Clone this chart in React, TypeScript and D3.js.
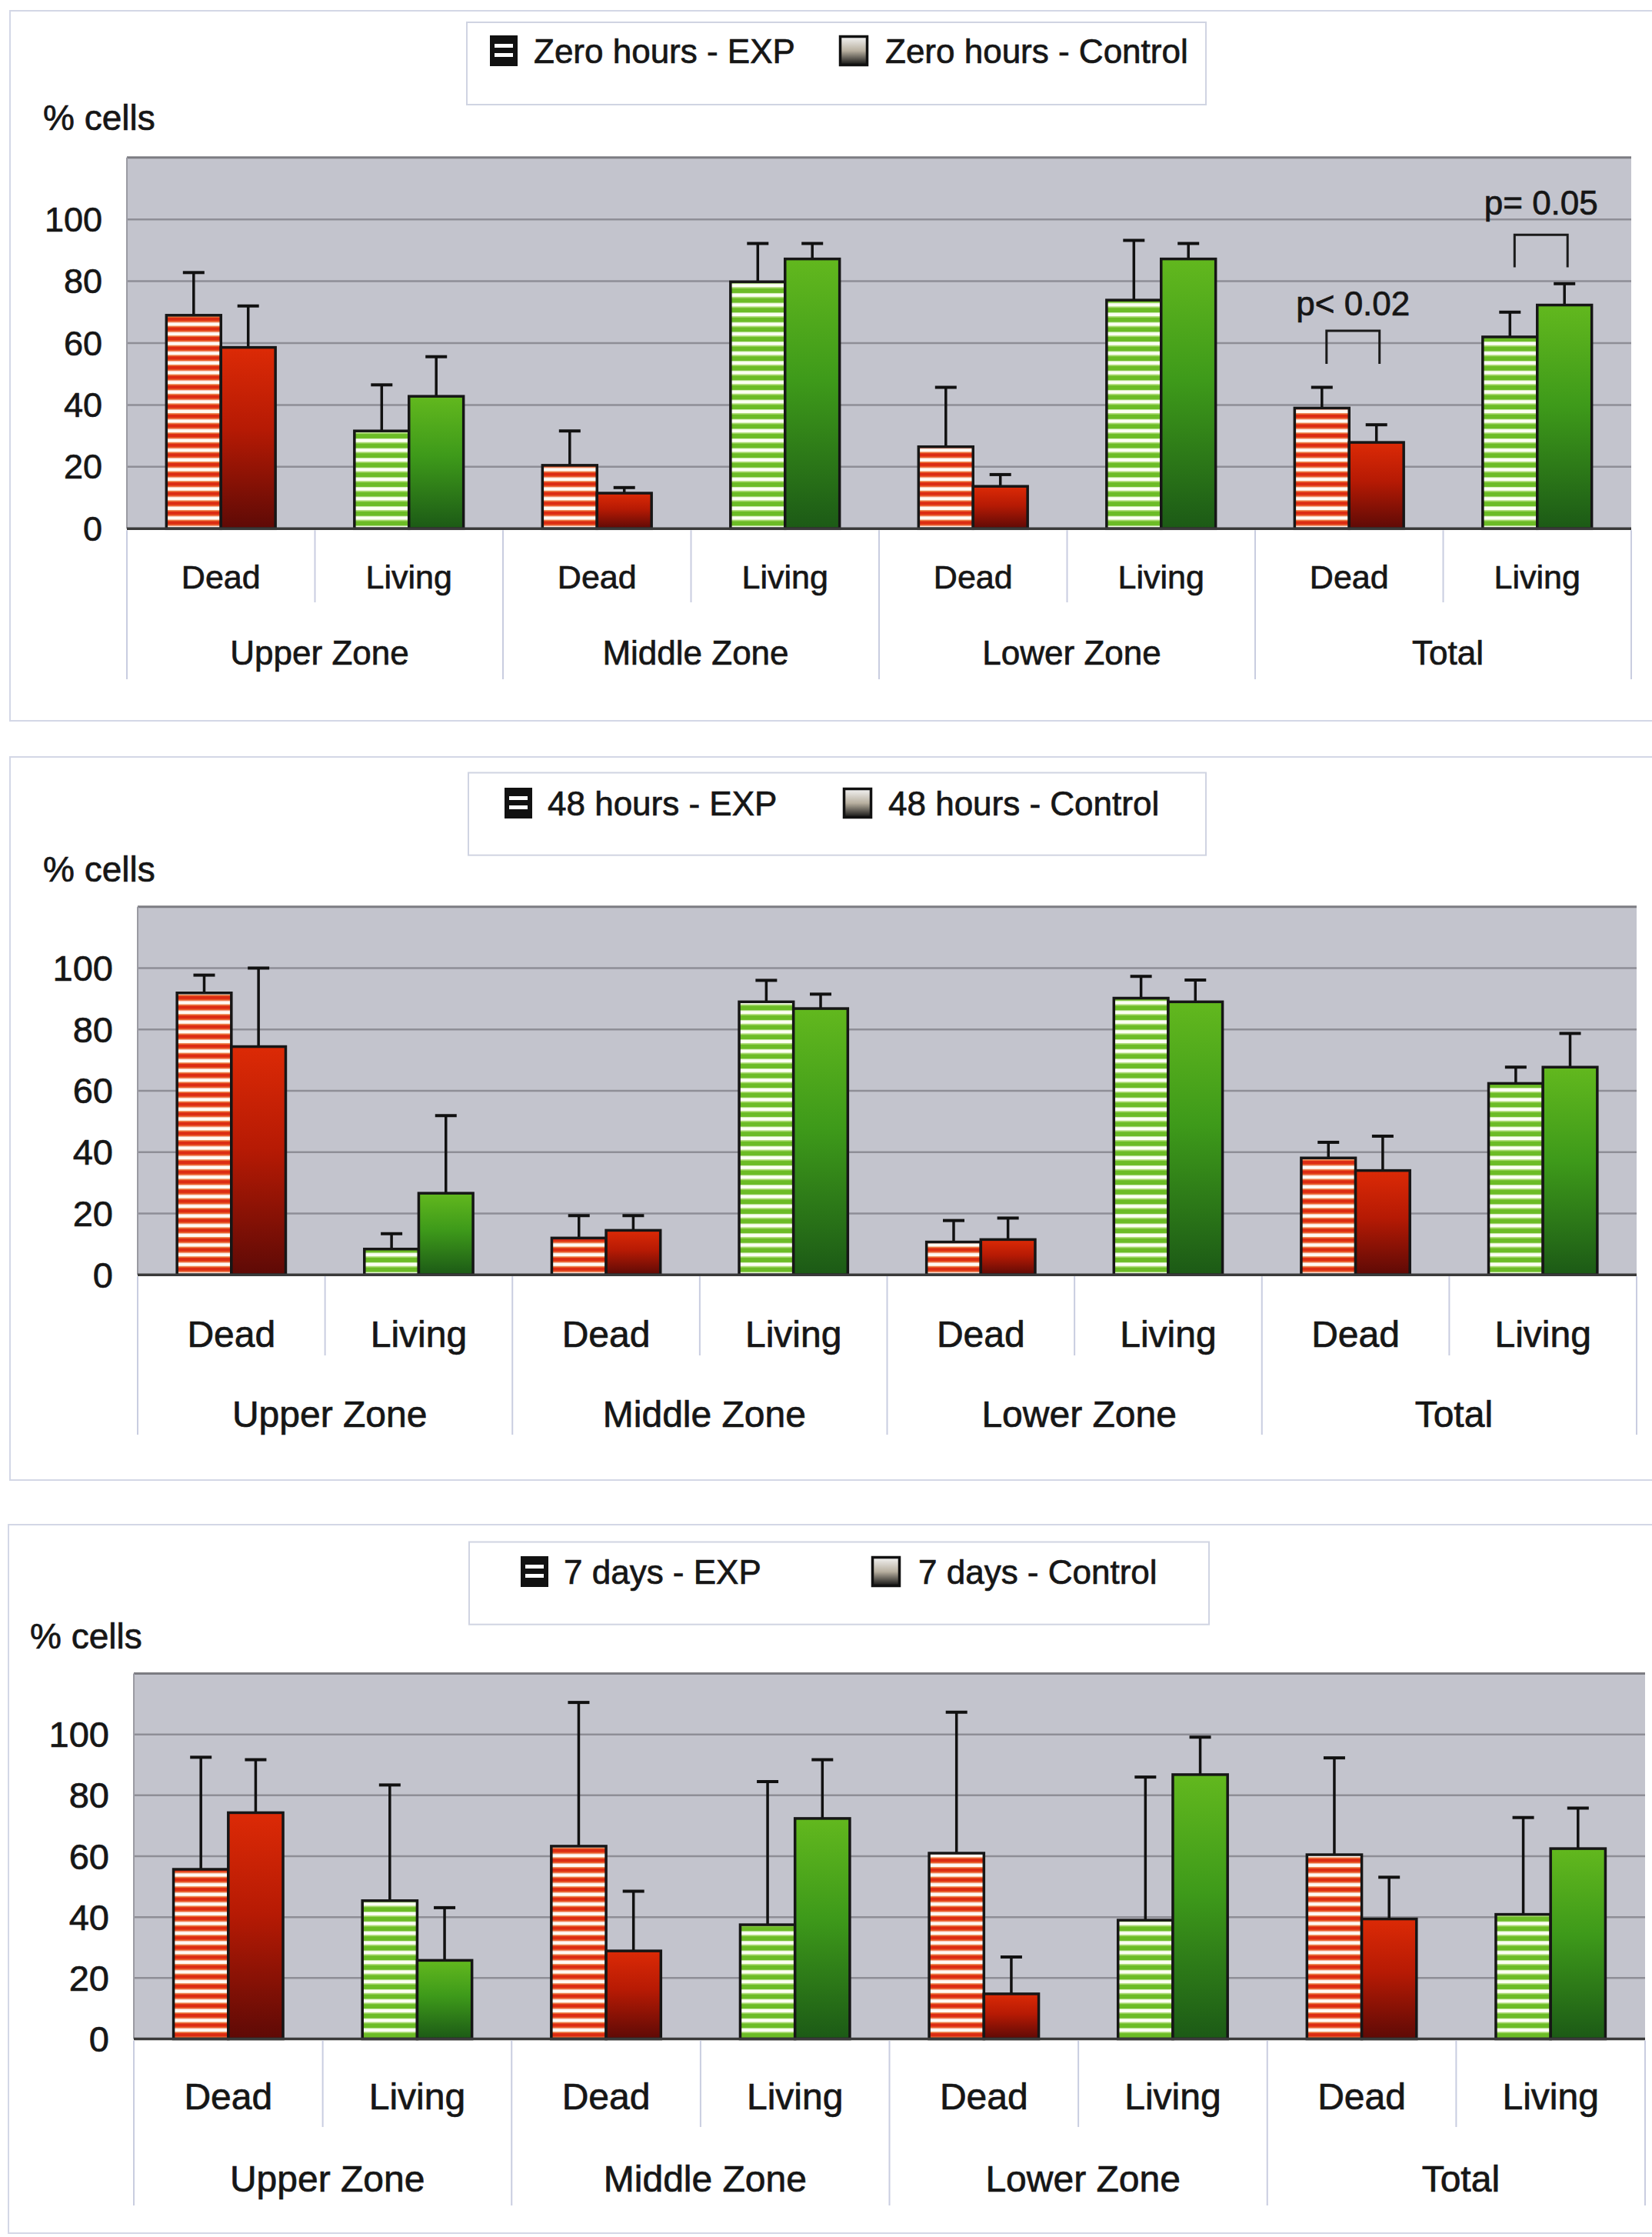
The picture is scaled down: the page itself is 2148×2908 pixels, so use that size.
import React from "react";
import * as d3 from "d3";

// ---------- DATA ----------
const CATEGORIES = ["Dead", "Living", "Dead", "Living", "Dead", "Living", "Dead", "Living"];
const GROUPS = ["Upper Zone", "Middle Zone", "Lower Zone", "Total"];
const Y_TICKS = [0, 20, 40, 60, 80, 100];
const SERIES = ["EXP", "Control"];

// Zero hours
const zeroExp = [69, 31.6, 20.5, 79.8, 26.5, 73.9, 39, 62];
const zeroExpSd = [13.8, 14.9, 11.1, 12.4, 19.2, 19.3, 6.7, 8];
const zeroCtrl = [58.6, 42.8, 11.5, 87.2, 13.7, 87.2, 27.9, 72.3];
const zeroCtrlSd = [13.4, 12.8, 1.8, 5, 3.8, 5, 5.7, 6.9];

// 48 hours
const h48Exp = [91.9, 8.4, 12, 89, 10.7, 90.2, 38.1, 62.4];
const h48ExpSd = [5.8, 5, 7.3, 7, 7, 7.1, 5.1, 5.3];
const h48Ctrl = [74.4, 26.6, 14.5, 86.8, 11.5, 89, 34, 67.7];
const h48CtrlSd = [25.6, 25.3, 4.8, 4.7, 7, 7.1, 11.2, 11];

// 7 days
const d7Exp = [55.7, 45.4, 63.3, 37.5, 61, 39, 60.5, 40.9];
const d7ExpSd = [36.8, 38, 47.2, 47, 46.3, 47, 31.8, 31.8];
const d7Ctrl = [74.3, 25.8, 28.9, 72.4, 14.8, 86.8, 39.4, 62.5];
const d7CtrlSd = [17.4, 17.3, 19.6, 19.3, 12.1, 12.3, 13.7, 13.3];

// significance annotations (zero hours panel): category index, bracket top, leg bottom, label value
const sigCategory = [6, 7];
const sigTop = [64, 95];
const sigLegBottom = [53.3, 84.5];
const sigLabel = ["p< 0.02", "p= 0.05"];
const sigLabelValue = [68.9, 101.5];

const legendNames = [
  ["Zero hours - EXP", "Zero hours - Control"],
  ["48 hours - EXP", "48 hours - Control"],
  ["7 days - EXP", "7 days - Control"],
];

// ---------- LAYOUT ----------
const W = 2148;
const H = 2908;
const FONT = "'Liberation Sans', Arial, Helvetica, sans-serif";
const TXT = "#161616";
const TS = 0.7; // text stroke for heavier scanned look

const panels = [
  {
    exp: zeroExp, expSd: zeroExpSd, ctrl: zeroCtrl, ctrlSd: zeroCtrlSd, legend: legendNames[0],
    box: { x: 13, y: 14, bottom: 937 },
    plot: { left: 165, right: 2121, top: 204.7, base: 687.3 },
    legendBox: { x: 607, y: 29, x2: 1568, y2: 136 },
    leg: { m1: 637, t1: 694, m2: 1091, t2: 1151, cy: 66 },
    cells: { x: 56, y: 153 },
    xl: { cat: 750, grp: 848, shortB: 783, longB: 883 },
    fonts: { tick: 45, cat: 43, grp: 44 },
    sig: true,
  },
  {
    exp: h48Exp, expSd: h48ExpSd, ctrl: h48Ctrl, ctrlSd: h48CtrlSd, legend: legendNames[1],
    box: { x: 13, y: 984, bottom: 1924 },
    plot: { left: 179, right: 2128, top: 1178.7, base: 1657.2 },
    legendBox: { x: 609, y: 1004.5, x2: 1568, y2: 1111.7 },
    leg: { m1: 656, t1: 712, m2: 1096, t2: 1155, cy: 1044 },
    cells: { x: 56, y: 1130 },
    xl: { cat: 1734, grp: 1838, shortB: 1762, longB: 1865 },
    fonts: { tick: 47, cat: 48, grp: 48 },
    sig: false,
  },
  {
    exp: d7Exp, expSd: d7ExpSd, ctrl: d7Ctrl, ctrlSd: d7CtrlSd, legend: legendNames[2],
    box: { x: 11, y: 1982, bottom: 2903 },
    plot: { left: 174, right: 2139, top: 2175.5, base: 2650.5 },
    legendBox: { x: 610, y: 2004.5, x2: 1572, y2: 2111.7 },
    leg: { m1: 677, t1: 733, m2: 1133, t2: 1194, cy: 2043 },
    cells: { x: 39, y: 2127 },
    xl: { cat: 2725, grp: 2832, shortB: 2765, longB: 2867 },
    fonts: { tick: 47, cat: 48, grp: 48 },
    sig: false,
  },
];

const RED_TOP = "#dc2a06";
const RED_BOT = "#5e0a06";
const GREEN_TOP = "#62b81e";
const GREEN_BOT = "#1c5a16";

function T(props: any) {
  return <text fontFamily={FONT} fill={TXT} stroke={TXT} strokeWidth={TS} {...props} />;
}

function Panel({ p }: { p: any }) {
  const cats = CATEGORIES.map((c, i) => `${i}`);
  const x0 = d3.scaleBand().domain(cats).range([p.plot.left, p.plot.right]).paddingInner(0.42).paddingOuter(0.21);
  const x1 = d3.scaleBand().domain(SERIES).range([0, x0.bandwidth()]).padding(0);
  const y = d3.scaleLinear().domain([0, 120]).range([p.plot.base, p.plot.top]);
  const step = x0.step();
  const tickVals = [20, 40, 60, 80, 100, 120];

  return (
    <g>
      <rect x={p.box.x} y={p.box.y} width={W + 20} height={p.box.bottom - p.box.y} fill="#ffffff" stroke="#d3d7e6" strokeWidth={2} />
      <rect x={p.legendBox.x} y={p.legendBox.y} width={p.legendBox.x2 - p.legendBox.x} height={p.legendBox.y2 - p.legendBox.y} fill="#ffffff" stroke="#d0d4e2" strokeWidth={2} />
      <g transform={`translate(${p.leg.m1},${p.leg.cy - 20})`}>
        <rect x={0} y={0} width={36} height={40} fill="#111" />
        <rect x={6} y={11} width={24} height={5} fill="#fff" />
        <rect x={6} y={23} width={24} height={5} fill="#fff" />
      </g>
      <T x={p.leg.t1} y={p.leg.cy} fontSize={44} dominantBaseline="central">{p.legend[0]}</T>
      <g transform={`translate(${p.leg.m2},${p.leg.cy - 20})`}>
        <rect x={1.5} y={1.5} width={35} height={37} fill="url(#legGrad)" stroke="#111" strokeWidth={3.5} />
      </g>
      <T x={p.leg.t2} y={p.leg.cy} fontSize={44} dominantBaseline="central">{p.legend[1]}</T>

      <T x={p.cells.x} y={p.cells.y} fontSize={46} dominantBaseline="central">% cells</T>

      <rect x={p.plot.left} y={p.plot.top} width={p.plot.right - p.plot.left} height={p.plot.base - p.plot.top} fill="#c3c4cd" />
      {tickVals.map((t) => (
        <line key={t} x1={p.plot.left} x2={p.plot.right} y1={y(t)} y2={y(t)} stroke={t === 120 ? "#7c7c82" : "#8e8e96"} strokeWidth={t === 120 ? 3 : 2.5} />
      ))}
      <line x1={p.plot.left} x2={p.plot.left} y1={p.plot.top} y2={p.plot.base} stroke="#9a9aa2" strokeWidth={2} />
      {Y_TICKS.map((t) => (
        <T key={t} x={p.plot.left - 32} y={y(t)} textAnchor="end" dominantBaseline="central" fontSize={p.fonts.tick}>{t}</T>
      ))}

      {CATEGORIES.map((c, i) => {
        const isDead = c === "Dead";
        const bx = x0(`${i}`)!;
        const vals = [p.exp[i], p.ctrl[i]];
        const sds = [p.expSd[i], p.ctrlSd[i]];
        return (
          <g key={i}>
            {SERIES.map((s, j) => {
              const xx = bx + x1(s)!;
              const bw = x1.bandwidth();
              const fill = j === 0 ? (isDead ? "url(#stripeRed)" : "url(#stripeGreen)") : (isDead ? "url(#gradRed)" : "url(#gradGreen)");
              const v = vals[j];
              const top = y(v + sds[j]);
              const cx = xx + bw / 2;
              return (
                <g key={s}>
                  <line x1={cx} x2={cx} y1={y(v)} y2={top} stroke="#111" strokeWidth={3.5} />
                  <line x1={cx - 14} x2={cx + 14} y1={top} y2={top} stroke="#111" strokeWidth={4} />
                  <rect x={xx} y={y(v)} width={bw} height={y(0) - y(v)} fill={fill} stroke="#161616" strokeWidth={3.5} />
                </g>
              );
            })}
          </g>
        );
      })}
      <line x1={p.plot.left} x2={p.plot.right} y1={y(0)} y2={y(0)} stroke="#3a3a3a" strokeWidth={3.5} />

      {d3.range(0, 9).map((k) => (
        <line key={k} x1={p.plot.left + k * step} x2={p.plot.left + k * step} y1={y(0) + 2} y2={k % 2 === 0 ? p.xl.longB : p.xl.shortB} stroke="#c9cde0" strokeWidth={2} />
      ))}
      {CATEGORIES.map((c, i) => (
        <T key={i} x={x0(`${i}`)! + x0.bandwidth() / 2} y={p.xl.cat} textAnchor="middle" dominantBaseline="central" fontSize={p.fonts.cat}>{c}</T>
      ))}
      {GROUPS.map((g, i) => (
        <T key={g} x={p.plot.left + (2 * i + 1) * step + 6} y={p.xl.grp} textAnchor="middle" dominantBaseline="central" fontSize={p.fonts.grp}>{g}</T>
      ))}

      {p.sig && sigCategory.map((ci, k) => {
        const bx = x0(`${ci}`)!;
        const xa = bx + x1("EXP")! + x1.bandwidth() / 2 + 6;
        const xb = bx + x1("Control")! + x1.bandwidth() / 2 + 4;
        return (
          <g key={k}>
            <path d={`M${xa},${y(sigLegBottom[k])}V${y(sigTop[k])}H${xb}V${y(sigLegBottom[k])}`} fill="none" stroke="#1a1a1a" strokeWidth={3} />
            <T x={(xa + xb) / 2} y={y(sigLabelValue[k])} textAnchor="middle" fontSize={44}>{sigLabel[k]}</T>
          </g>
        );
      })}
    </g>
  );
}

export default function App() {
  return (
    <svg width={W} height={H} viewBox={`0 0 ${W} ${H}`} style={{ position: "absolute", left: 0, top: 0, background: "#ffffff" }}>
      <defs>
        <pattern id="stripeRed" patternUnits="userSpaceOnUse" width={20} height={12.6}>
          <rect x={0} y={0} width={20} height={12.6} fill="#dc2c12" />
          <rect x={0} y={1.5} width={20} height={1.2} fill="#f07a3a" />
          <rect x={0} y={3.2} width={20} height={5} fill="#fffaf2" />
          <rect x={0} y={8.2} width={20} height={1.2} fill="#f2883e" />
        </pattern>
        <pattern id="stripeGreen" patternUnits="userSpaceOnUse" width={20} height={12.6}>
          <rect x={0} y={0} width={20} height={12.6} fill="#6cbc26" />
          <rect x={0} y={3.2} width={20} height={5} fill="#fbfff2" />
          <rect x={0} y={8.2} width={20} height={1.2} fill="#b6e07a" />
        </pattern>
        <linearGradient id="gradRed" x1="0" y1="0" x2="0" y2="1">
          <stop offset="0" stopColor={RED_TOP} />
          <stop offset="0.45" stopColor="#b61a04" />
          <stop offset="1" stopColor={RED_BOT} />
        </linearGradient>
        <linearGradient id="gradGreen" x1="0" y1="0" x2="0" y2="1">
          <stop offset="0" stopColor={GREEN_TOP} />
          <stop offset="0.45" stopColor="#3e9a1a" />
          <stop offset="1" stopColor={GREEN_BOT} />
        </linearGradient>
        <linearGradient id="legGrad" x1="0" y1="0" x2="0" y2="1">
          <stop offset="0" stopColor="#f4f4f4" />
          <stop offset="0.5" stopColor="#b8b0a0" />
          <stop offset="1" stopColor="#111" />
        </linearGradient>
      </defs>
      <rect x={0} y={0} width={W} height={H} fill="#ffffff" />
      {panels.map((p, i) => (
        <Panel key={i} p={p} />
      ))}
    </svg>
  );
}
